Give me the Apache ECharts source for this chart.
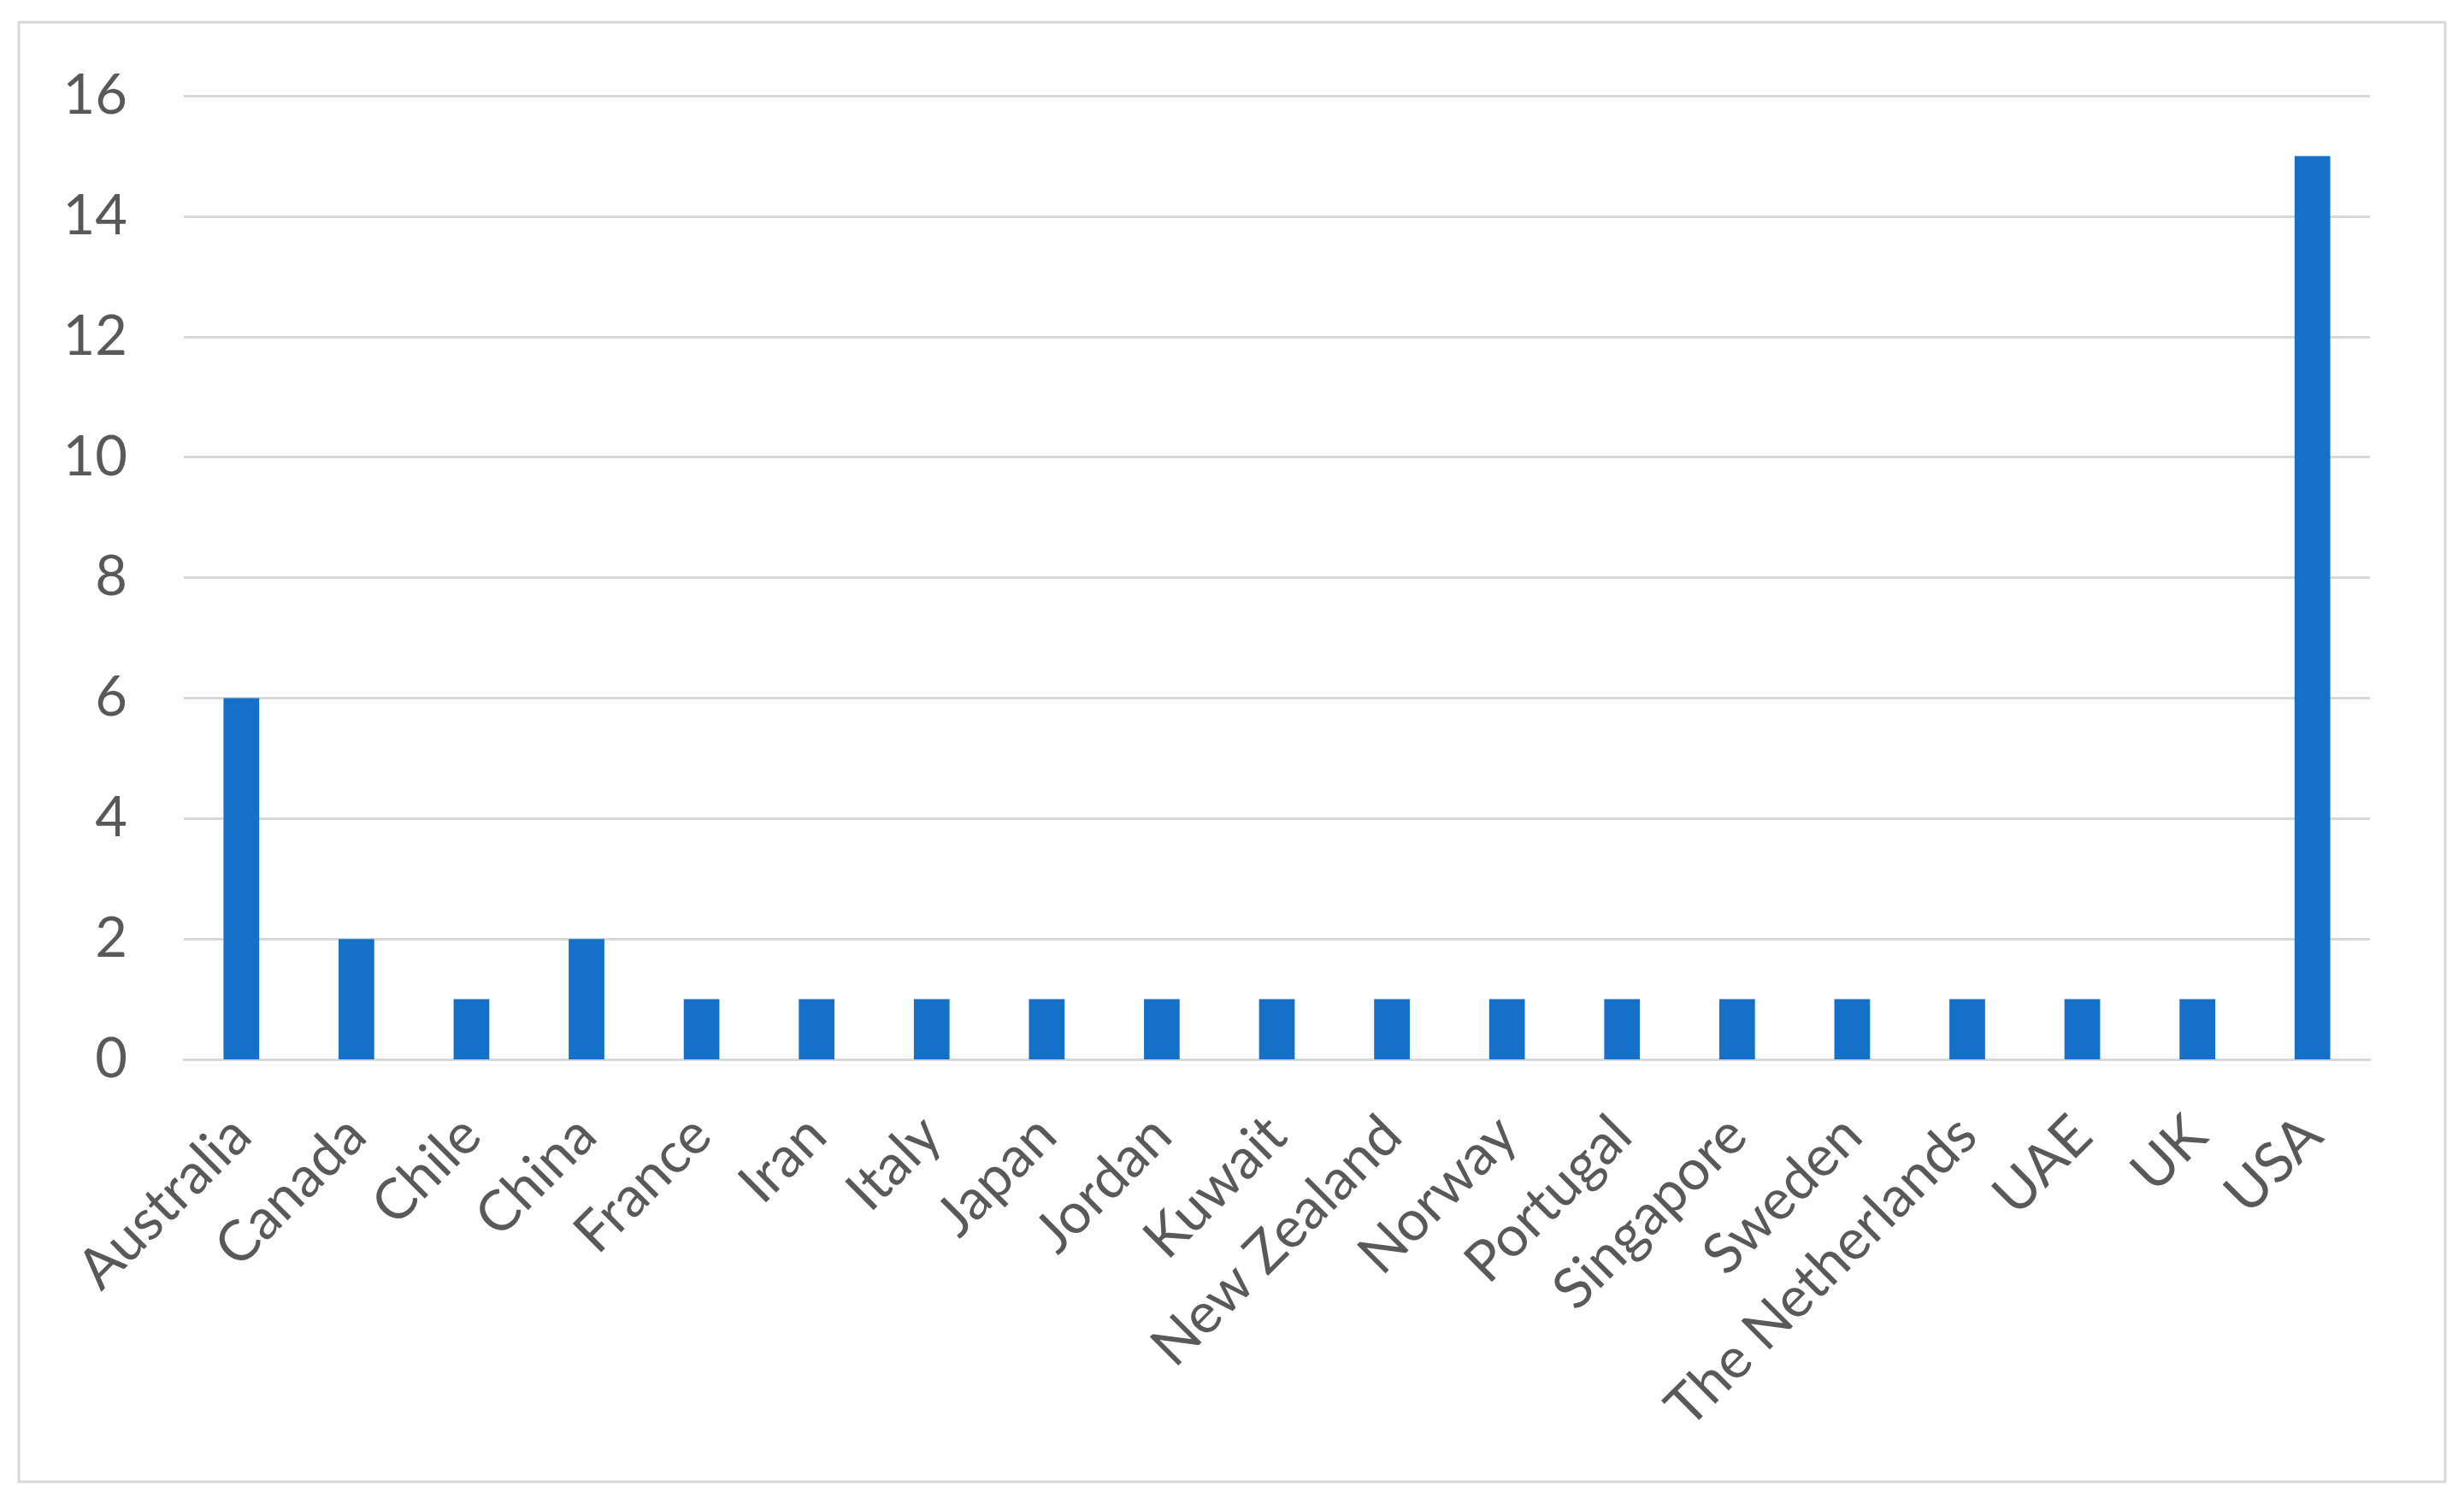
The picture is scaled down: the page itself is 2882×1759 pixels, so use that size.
<!DOCTYPE html>
<html>
<head>
<meta charset="utf-8">
<script src="https://cdn.jsdelivr.net/npm/echarts@6/dist/echarts.min.js"></script>
<style>
  html, body { margin: 0; padding: 0; background: #fff; }
  #chart { width: 2882px; height: 1759px; }
</style>
</head>
<body>
<div id="chart"></div>
<script>
const countries = ['Australia', 'Canada', 'Chile', 'China', 'France', 'Iran', 'Italy', 'Japan', 'Jordan', 'Kuwait',
  'New Zealand', 'Norway', 'Portugal', 'Singapore', 'Sweden', 'The Netherlands', 'UAE', 'UK', 'USA'];
const counts = [6, 2, 1, 2, 1, 1, 1, 1, 1, 1, 1, 1, 1, 1, 1, 1, 1, 1, 15];
const yTicks = [0, 16, 2]; // min, max, step

const textColor = '#595959';
const gridColor = '#d9d9d9';
const font = 'Lato, "Open Sans", sans-serif';

let myChart = echarts.init(document.getElementById('chart'));

myChart.setOption({
  backgroundColor: '#fff',
  animation: false,
  graphic: [{
    type: 'rect',
    shape: { x: 22, y: 26, width: 2838, height: 1707 },
    style: { fill: 'none', stroke: gridColor, lineWidth: 3 }
  }],
  grid: { left: 215, right: 110, top: 112, bottom: 520 },
  xAxis: {
    type: 'category',
    data: countries,
    axisLine: { lineStyle: { color: gridColor, width: 3 } },
    axisTick: { show: false },
    axisLabel: {
      interval: 0,
      rotate: 45,
      margin: 78,
      color: textColor,
      fontFamily: font,
      fontSize: 66
    }
  },
  yAxis: {
    type: 'value',
    min: yTicks[0],
    max: yTicks[1],
    interval: yTicks[2],
    axisLine: { show: false },
    axisTick: { show: false },
    splitLine: { lineStyle: { color: gridColor, width: 3 } },
    axisLabel: {
      margin: 66,
      color: textColor,
      fontFamily: font,
      fontSize: 65
    }
  },
  series: [{
    type: 'bar',
    data: counts,
    barWidth: '31%',
    itemStyle: { color: '#1570c8' }
  }]
});
</script>
</body>
</html>
